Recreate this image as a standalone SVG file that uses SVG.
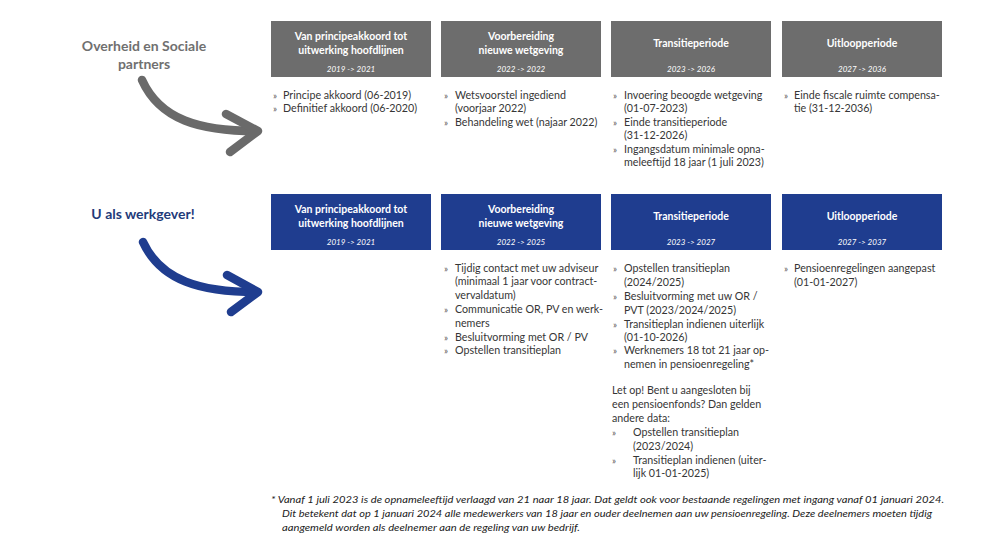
<svg xmlns="http://www.w3.org/2000/svg" width="1000" height="548" viewBox="0 0 1000 548">
<style>
.bg{fill:#ffffff}
.gbox{fill:#6d6d6d}
.bbox{fill:#1f3d8f}
.ttl{font-family:Lato,"Liberation Sans",sans-serif;font-weight:bold;font-size:10.5px;fill:#ffffff;text-anchor:middle}
.dt{font-family:Lato,"Liberation Sans",sans-serif;font-style:italic;font-size:8px;fill:#ffffff;text-anchor:middle}
.tx{font-family:Lato,"Liberation Sans",sans-serif;font-size:10.7px;fill:#363636}
.bl{font-family:Lato,"Liberation Sans",sans-serif;font-size:9.5px;fill:#555555}
.lbg{font-family:Lato,"Liberation Sans",sans-serif;font-weight:bold;font-size:14px;fill:#707070;text-anchor:middle}
.lbb{font-family:Lato,"Liberation Sans",sans-serif;font-weight:bold;font-size:14px;fill:#1f3b7a;text-anchor:middle}
.fn{font-family:Lato,"Liberation Sans",sans-serif;font-style:italic;font-size:10px;fill:#222222}
.arg{fill:none;stroke:#6a6a6a;stroke-width:8.5;stroke-linecap:round;stroke-linejoin:round}
.arb{fill:none;stroke:#1f3d8f;stroke-width:8.5;stroke-linecap:round;stroke-linejoin:round}
</style>
<rect class="bg" x="0" y="0" width="1000" height="548"/>

<g id="label-overheid">
<text class="lbg" x="144" y="51">Overheid en Sociale</text>
<text class="lbg" x="144" y="69">partners</text>
</g>
<g id="label-werkgever">
<text class="lbb" x="143" y="219">U als werkgever!</text>
</g>

<g id="connectors">
<path class="arg" d="M142,80 C160,120 200,131 256,131"/>
<path class="arg" d="M226,114 L258,131 L230,152"/>
<path class="arb" d="M143,242 C161,281 201,292 256,292"/>
<path class="arb" d="M227,275 L258,292 L231,312"/>
</g>

<g id="g-box1">
<rect class="gbox" x="271" y="21" width="160" height="56"/>
<text class="ttl" x="351" y="40">Van principeakkoord tot</text>
<text class="ttl" x="351" y="54">uitwerking hoofdlijnen</text>
<text class="dt" x="351" y="72">2019 -&gt; 2021</text>
</g>
<g id="g-box2">
<rect class="gbox" x="441" y="21" width="160" height="56"/>
<text class="ttl" x="521" y="40">Voorbereiding</text>
<text class="ttl" x="521" y="54">nieuwe wetgeving</text>
<text class="dt" x="521" y="72">2022 -&gt; 2022</text>
</g>
<g id="g-box3">
<rect class="gbox" x="611" y="21" width="160" height="56"/>
<text class="ttl" x="691" y="47">Transitieperiode</text>
<text class="dt" x="691" y="72">2023 -&gt; 2026</text>
</g>
<g id="g-box4">
<rect class="gbox" x="782" y="21" width="160" height="56"/>
<text class="ttl" x="862" y="47">Uitloopperiode</text>
<text class="dt" x="862" y="72">2027 -&gt; 2036</text>
</g>

<g id="g-list1">
<text class="bl" x="273" y="99">»</text><text class="tx" x="283" y="99">Principe akkoord (06-2019)</text>
<text class="bl" x="273" y="112">»</text><text class="tx" x="283" y="112">Definitief akkoord (06-2020)</text>
</g>
<g id="g-list2">
<text class="bl" x="444" y="99">»</text><text class="tx" x="455" y="99">Wetsvoorstel ingediend</text>
<text class="tx" x="455" y="112">(voorjaar 2022)</text>
<text class="bl" x="444" y="126">»</text><text class="tx" x="455" y="126">Behandeling wet (najaar 2022)</text>
</g>
<g id="g-list3">
<text class="bl" x="613" y="99">»</text><text class="tx" x="624" y="99">Invoering beoogde wetgeving</text>
<text class="tx" x="624" y="112">(01-07-2023)</text>
<text class="bl" x="613" y="126">»</text><text class="tx" x="624" y="126">Einde transitieperiode</text>
<text class="tx" x="624" y="139">(31-12-2026)</text>
<text class="bl" x="613" y="153">»</text><text class="tx" x="624" y="153">Ingangsdatum minimale opna-</text>
<text class="tx" x="624" y="166">meleeftijd 18 jaar (1 juli 2023)</text>
</g>
<g id="g-list4">
<text class="bl" x="784" y="99">»</text><text class="tx" x="794" y="99">Einde fiscale ruimte compensa-</text>
<text class="tx" x="794" y="112">tie (31-12-2036)</text>
</g>

<g id="b-box1">
<rect class="bbox" x="271" y="194" width="160" height="56"/>
<text class="ttl" x="351" y="213">Van principeakkoord tot</text>
<text class="ttl" x="351" y="227">uitwerking hoofdlijnen</text>
<text class="dt" x="351" y="245">2019 -&gt; 2021</text>
</g>
<g id="b-box2">
<rect class="bbox" x="441" y="194" width="160" height="56"/>
<text class="ttl" x="521" y="213">Voorbereiding</text>
<text class="ttl" x="521" y="227">nieuwe wetgeving</text>
<text class="dt" x="521" y="245">2022 -&gt; 2025</text>
</g>
<g id="b-box3">
<rect class="bbox" x="611" y="194" width="160" height="56"/>
<text class="ttl" x="691" y="220">Transitieperiode</text>
<text class="dt" x="691" y="245">2023 -&gt; 2027</text>
</g>
<g id="b-box4">
<rect class="bbox" x="782" y="194" width="160" height="56"/>
<text class="ttl" x="862" y="220">Uitloopperiode</text>
<text class="dt" x="862" y="245">2027 -&gt; 2037</text>
</g>

<g id="b-list2">
<text class="bl" x="444" y="272">»</text><text class="tx" x="455" y="272">Tijdig contact met uw adviseur</text>
<text class="tx" x="455" y="285">(minimaal 1 jaar voor contract-</text>
<text class="tx" x="455" y="299">vervaldatum)</text>
<text class="bl" x="444" y="313">»</text><text class="tx" x="455" y="313">Communicatie OR, PV en werk-</text>
<text class="tx" x="455" y="327">nemers</text>
<text class="bl" x="444" y="341">»</text><text class="tx" x="455" y="341">Besluitvorming met OR / PV</text>
<text class="bl" x="444" y="354">»</text><text class="tx" x="455" y="354">Opstellen transitieplan</text>
</g>
<g id="b-list3">
<text class="bl" x="613" y="272">»</text><text class="tx" x="624" y="272">Opstellen transitieplan</text>
<text class="tx" x="624" y="286">(2024/2025)</text>
<text class="bl" x="613" y="300">»</text><text class="tx" x="624" y="300">Besluitvorming met uw OR /</text>
<text class="tx" x="624" y="314">PVT (2023/2024/2025)</text>
<text class="bl" x="613" y="328">»</text><text class="tx" x="624" y="328">Transitieplan indienen uiterlijk</text>
<text class="tx" x="624" y="341">(01-10-2026)</text>
<text class="bl" x="613" y="354">»</text><text class="tx" x="624" y="354">Werknemers 18 tot 21 jaar op-</text>
<text class="tx" x="624" y="368">nemen in pensioenregeling*</text>
</g>
<g id="b-note3">
<text class="tx" x="612" y="394">Let op! Bent u aangesloten bij</text>
<text class="tx" x="612" y="408">een pensioenfonds? Dan gelden</text>
<text class="tx" x="612" y="422">andere data:</text>
<text class="bl" x="612" y="436">»</text><text class="tx" x="633" y="436">Opstellen transitieplan</text>
<text class="tx" x="633" y="450">(2023/2024)</text>
<text class="bl" x="612" y="464">»</text><text class="tx" x="633" y="464">Transitieplan indienen (uiter-</text>
<text class="tx" x="633" y="477">lijk 01-01-2025)</text>
</g>
<g id="b-list4">
<text class="bl" x="784" y="272">»</text><text class="tx" x="794" y="272">Pensioenregelingen aangepast</text>
<text class="tx" x="794" y="286">(01-01-2027)</text>
</g>

<g id="footnote">
<text class="fn" x="271" y="503" textLength="673" lengthAdjust="spacingAndGlyphs">* Vanaf 1 juli 2023 is de opnameleeftijd verlaagd van 21 naar 18 jaar. Dat geldt ook voor bestaande regelingen met ingang vanaf 01 januari 2024.</text>
<text class="fn" x="282" y="517" textLength="650" lengthAdjust="spacingAndGlyphs">Dit betekent dat op 1 januari 2024 alle medewerkers van 18 jaar en ouder deelnemen aan uw pensioenregeling. Deze deelnemers moeten tijdig</text>
<text class="fn" x="282" y="531" textLength="298" lengthAdjust="spacingAndGlyphs">aangemeld worden als deelnemer aan de regeling van uw bedrijf.</text>
</g>
</svg>
